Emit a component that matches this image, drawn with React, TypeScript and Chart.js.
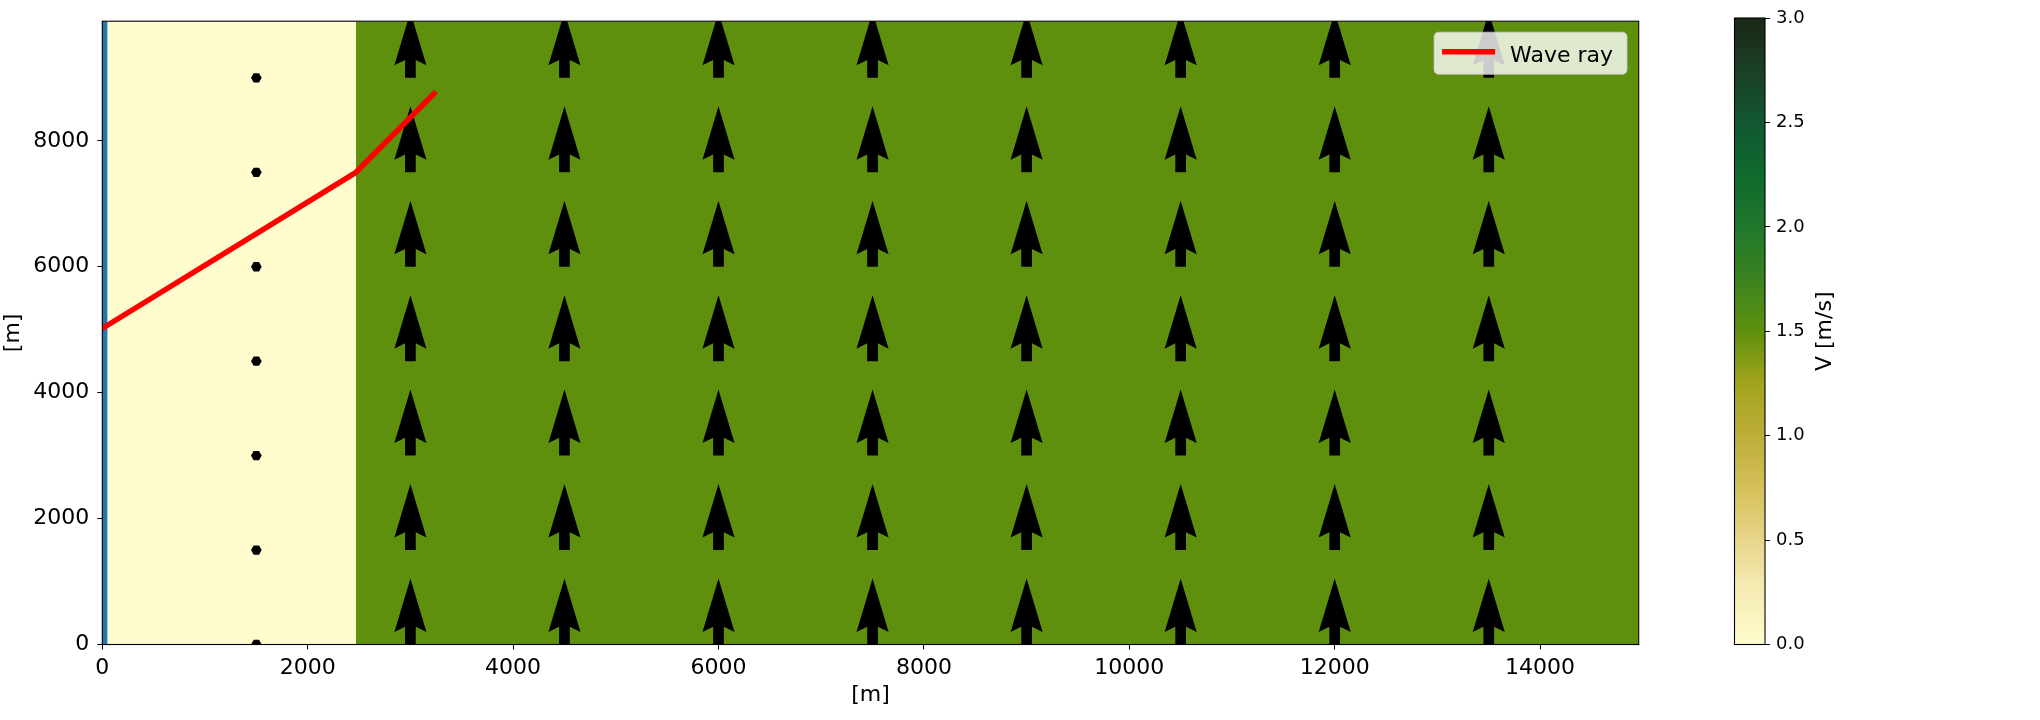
import React, { useEffect, useRef } from "react";
import { Chart, registerables } from "chart.js";

Chart.register(...registerables);

// ---------- data ----------
const X_MIN = 0;
const X_MAX = 14960;
const Y_MIN = 0;
const Y_MAX = 9900;
const xTicks = [0, 2000, 4000, 6000, 8000, 10000, 12000, 14000];
const yTicks = [0, 2000, 4000, 6000, 8000];

// velocity field regions (x edges) and speed in each region
const fieldEdges = [0, 2470, 14960];
const fieldSpeed = [0, 1.5];

// wave ray
const rayX = [0, 2470, 3230];
const rayY = [5020, 7500, 8750];

// quiver grid
const quiverX = [1500, 3000, 4500, 6000, 7500, 9000, 10500, 12000, 13500];
const quiverY = [0, 1500, 3000, 4500, 6000, 7500, 9000];
const quiverU = [0, 0, 0, 0, 0, 0, 0, 0, 0];
const quiverV = [0, 1.5, 1.5, 1.5, 1.5, 1.5, 1.5, 1.5, 1.5];

// boundary strip at the left edge
const boundaryX = [25, 25];
const boundaryY = [0, 9900];

// colour bar
const V_MIN = 0;
const V_MAX = 3;
const cbarTicks = [0, 0.5, 1, 1.5, 2, 2.5, 3];
const cmapPos = [0, 0.1, 0.1667, 0.25, 0.3333, 0.4167, 0.5, 0.5833, 0.6667, 0.75, 0.8333, 0.9167, 1];
const cmapColors = [
  "#fffdcd", "#f3e8ae", "#e7d58a", "#d5c05a", "#bdae3a", "#a2a41c", "#5e900e",
  "#3b8320", "#1f772c", "#0f6a2e", "#125732", "#1b3f26", "#1a2717",
];

// ---------- helpers ----------
const FONT = "'DejaVu Sans', 'Liberation Sans', sans-serif";
Chart.defaults.font.family = FONT;
Chart.defaults.color = "#000";

function hexToRgb(h: string) {
  const n = parseInt(h.slice(1), 16);
  return [(n >> 16) & 255, (n >> 8) & 255, n & 255];
}
function cmap(v: number) {
  const t = Math.max(0, Math.min(1, (v - V_MIN) / (V_MAX - V_MIN)));
  for (let i = 0; i < cmapPos.length - 1; i++) {
    if (t <= cmapPos[i + 1]) {
      const f = (t - cmapPos[i]) / (cmapPos[i + 1] - cmapPos[i]);
      const a = hexToRgb(cmapColors[i]);
      const b = hexToRgb(cmapColors[i + 1]);
      const c = a.map((x, k) => Math.round(x + (b[k] - x) * f));
      return `rgb(${c[0]},${c[1]},${c[2]})`;
    }
  }
  return cmapColors[cmapColors.length - 1];
}

const ARROW_PX_PER_UNIT = 44;
const SHAFT_W = 10.7;
const HEAD_W = 3;
const HEAD_L = 5;
const HEAD_AXIS_L = 4.5;

const quiverPlugin = {
  id: "quiverArrows",
  afterDatasetDraw(chart: any, args: any) {
    const ds = chart.data.datasets[args.index];
    if (ds.label !== "quiver") return;
    const ctx = chart.ctx;
    const a = chart.chartArea;
    ctx.save();
    ctx.beginPath();
    ctx.rect(a.left, a.top, a.right - a.left, a.bottom - a.top);
    ctx.clip();
    ctx.fillStyle = "#000";
    args.meta.data.forEach((el: any, i: number) => {
      const d = ds.data[i];
      const mag = Math.hypot(d.u, d.v);
      const L = mag * ARROW_PX_PER_UNIT;
      const w = SHAFT_W;
      ctx.save();
      ctx.translate(el.x, el.y);
      ctx.beginPath();
      if (L < w) {
        for (let k = 0; k < 6; k++) {
          const ang = (Math.PI / 3) * k;
          const px = (w / 2) * Math.cos(ang);
          const py = (w / 2) * Math.sin(ang);
          if (k === 0) ctx.moveTo(px, py);
          else ctx.lineTo(px, py);
        }
      } else {
        ctx.rotate(Math.atan2(-d.v, d.u));
        const hl = HEAD_L * w;
        const hal = HEAD_AXIS_L * w;
        const hw = (HEAD_W * w) / 2;
        ctx.moveTo(0, -w / 2);
        ctx.lineTo(L - hal, -w / 2);
        ctx.lineTo(L - hl, -hw);
        ctx.lineTo(L, 0);
        ctx.lineTo(L - hl, hw);
        ctx.lineTo(L - hal, w / 2);
        ctx.lineTo(0, w / 2);
      }
      ctx.closePath();
      ctx.fill();
      ctx.restore();
    });
    ctx.restore();
  },
};

const framePlugin = {
  id: "frame",
  afterDraw(chart: any) {
    const a = chart.chartArea;
    const ctx = chart.ctx;
    ctx.save();
    ctx.strokeStyle = "#000";
    ctx.lineWidth = 1.1;
    ctx.strokeRect(a.left, a.top, a.right - a.left, a.bottom - a.top);
    ctx.restore();
  },
};

const legendPlugin = {
  id: "insideLegend",
  afterDraw(chart: any) {
    const ds = chart.data.datasets.find((d: any) => d.showInLegend);
    if (!ds) return;
    const ctx = chart.ctx;
    const a = chart.chartArea;
    ctx.save();
    ctx.font = `22px ${FONT}`;
    const tw = ctx.measureText(ds.label).width;
    const padL = 8, lineLen = 53, gap = 15, padR = 14, h = 42;
    const w = padL + lineLen + gap + tw + padR;
    const x = a.right - 11.7 - w;
    const y = a.top + 11;
    const r = 4.5;
    ctx.beginPath();
    ctx.moveTo(x + r, y);
    ctx.lineTo(x + w - r, y);
    ctx.arcTo(x + w, y, x + w, y + r, r);
    ctx.lineTo(x + w, y + h - r);
    ctx.arcTo(x + w, y + h, x + w - r, y + h, r);
    ctx.lineTo(x + r, y + h);
    ctx.arcTo(x, y + h, x, y + h - r, r);
    ctx.lineTo(x, y + r);
    ctx.arcTo(x, y, x + r, y, r);
    ctx.closePath();
    ctx.fillStyle = "rgba(255,255,255,0.8)";
    ctx.fill();
    ctx.strokeStyle = "rgba(204,204,204,0.8)";
    ctx.lineWidth = 1;
    ctx.stroke();
    const cy = y + h / 2 - 1.5;
    ctx.beginPath();
    ctx.moveTo(x + padL, cy);
    ctx.lineTo(x + padL + lineLen, cy);
    ctx.strokeStyle = ds.borderColor;
    ctx.lineWidth = ds.borderWidth;
    ctx.lineCap = "butt";
    ctx.stroke();
    ctx.fillStyle = "#000";
    ctx.textBaseline = "alphabetic";
    ctx.textAlign = "left";
    ctx.fillText(ds.label, x + padL + lineLen + gap, y + 29.5);
    ctx.restore();
  },
};

const cbarLabelPlugin = {
  id: "cbarLabel",
  afterDraw(chart: any) {
    const a = chart.chartArea;
    const ctx = chart.ctx;
    ctx.save();
    ctx.strokeStyle = "#000";
    ctx.lineWidth = 1.1;
    ctx.strokeRect(a.left, a.top, a.right - a.left, a.bottom - a.top);
    ctx.translate(125, (a.top + a.bottom) / 2);
    ctx.rotate(-Math.PI / 2);
    ctx.font = `22px ${FONT}`;
    ctx.fillStyle = "#000";
    ctx.textAlign = "center";
    ctx.textBaseline = "middle";
    ctx.fillText("V [m/s]", 0, 0);
    ctx.restore();
  },
};

const setTicks = (vals: number[]) => (s: any) => {
  s.ticks = vals.map((v) => ({ value: v }));
};

export default function App() {
  const mainRef = useRef<HTMLCanvasElement>(null);
  const cbarRef = useRef<HTMLCanvasElement>(null);

  useEffect(() => {
    const fieldDatasets = fieldSpeed.map((v, i) => ({
      type: "line" as const,
      label: "field" + i,
      data: [
        { x: fieldEdges[i], y: Y_MAX },
        { x: fieldEdges[i + 1], y: Y_MAX },
      ],
      borderWidth: 0,
      borderColor: "rgba(0,0,0,0)",
      backgroundColor: cmap(v),
      fill: "origin",
      pointRadius: 0,
      tension: 0,
      order: 10 + i,
    }));

    const quiverData: any[] = [];
    quiverX.forEach((qx, i) => {
      quiverY.forEach((qy) => {
        quiverData.push({ x: qx, y: qy, u: quiverU[i], v: quiverV[i] });
      });
    });

    const main = new Chart(mainRef.current!, {
      type: "line",
      data: {
        datasets: [
          {
            label: "Wave ray",
            showInLegend: true,
            data: rayX.map((x, i) => ({ x, y: rayY[i] })),
            borderColor: "#ff0000",
            borderWidth: 5.5,
            borderCapStyle: "square",
            borderJoinStyle: "round",
            pointRadius: 0,
            tension: 0,
            fill: false,
            order: 0,
          } as any,
          {
            label: "quiver",
            data: quiverData,
            showLine: false,
            pointRadius: 0,
            order: 1,
          } as any,
          {
            label: "boundary",
            data: boundaryX.map((x, i) => ({ x, y: boundaryY[i] })),
            borderColor: "#1f77b4",
            borderWidth: 5,
            pointRadius: 0,
            fill: false,
            order: 2,
          },
          ...fieldDatasets,
        ],
      },
      options: {
        responsive: false,
        animation: false,
        events: [],
        layout: { padding: { top: 18, right: 61.3, left: 0, bottom: 0 } },
        plugins: { legend: { display: false }, tooltip: { enabled: false } },
        scales: {
          x: {
            type: "linear",
            min: X_MIN,
            max: X_MAX,
            afterBuildTicks: setTicks(xTicks),
            afterFit: (s: any) => {
              s.height = 75.5;
            },
            ticks: {
              autoSkip: false,
              maxRotation: 0,
              color: "#000",
              font: { size: 22 },
              padding: 6,
              callback: (v: any) => String(v),
            },
            grid: { drawOnChartArea: false, drawTicks: true, tickLength: 5, tickColor: "#000", tickWidth: 1 },
            border: { display: true, color: "#000", width: 1 },
            title: { display: true, text: "[m]", color: "#000", font: { size: 22 }, padding: { top: 0, bottom: 12 } },
          },
          y: {
            type: "linear",
            min: Y_MIN,
            max: Y_MAX,
            afterBuildTicks: setTicks(yTicks),
            afterFit: (s: any) => {
              s.width = 102.3;
            },
            ticks: {
              autoSkip: false,
              color: "#000",
              font: { size: 22 },
              padding: 8,
              callback: (v: any) => String(v),
            },
            grid: { drawOnChartArea: false, drawTicks: true, tickLength: 5, tickColor: "#000", tickWidth: 1 },
            border: { display: true, color: "#000", width: 1 },
            title: { display: true, text: "[m]", color: "#000", font: { size: 22 }, padding: { top: 0, bottom: 0 } },
          },
        },
      } as any,
      plugins: [quiverPlugin, framePlugin, legendPlugin],
    });

    const cbar = new Chart(cbarRef.current!, {
      type: "bar",
      data: {
        labels: [""],
        datasets: [
          {
            label: "V",
            data: [[V_MIN, V_MAX]],
            borderWidth: 0,
            barPercentage: 1,
            categoryPercentage: 1,
            backgroundColor: (ctx: any) => {
              const ch = ctx.chart;
              const ys = ch.scales && ch.scales.y;
              if (!ch.chartArea || !ys) return cmapColors[0];
              const g = ch.ctx.createLinearGradient(0, ys.getPixelForValue(V_MIN), 0, ys.getPixelForValue(V_MAX));
              cmapPos.forEach((p, i) => g.addColorStop(p, cmapColors[i]));
              return g;
            },
          } as any,
        ],
      },
      options: {
        responsive: false,
        animation: false,
        events: [],
        layout: { padding: { top: 18, right: 0, left: 34.5, bottom: 75.5 } },
        plugins: { legend: { display: false }, tooltip: { enabled: false } },
        scales: {
          x: { display: false },
          y: {
            position: "right",
            min: V_MIN,
            max: V_MAX,
            afterBuildTicks: setTicks(cbarTicks),
            afterFit: (s: any) => {
              s.width = 275;
            },
            ticks: {
              color: "#000",
              font: { size: 18 },
              padding: 6,
              callback: (v: any) => Number(v).toFixed(1),
            },
            grid: { drawOnChartArea: false, drawTicks: true, tickLength: 5, tickColor: "#000", tickWidth: 1 },
            border: { display: false },
          },
        },
      } as any,
      plugins: [cbarLabelPlugin],
    });

    return () => {
      main.destroy();
      cbar.destroy();
    };
  }, []);

  return (
    <div style={{ position: "absolute", left: 0, top: 0, width: 2040, height: 720, background: "#fff" }}>
      <canvas ref={mainRef} width={1700} height={720} style={{ position: "absolute", left: 0, top: 0 }} />
      <canvas ref={cbarRef} width={340} height={720} style={{ position: "absolute", left: 1700, top: 0 }} />
    </div>
  );
}
